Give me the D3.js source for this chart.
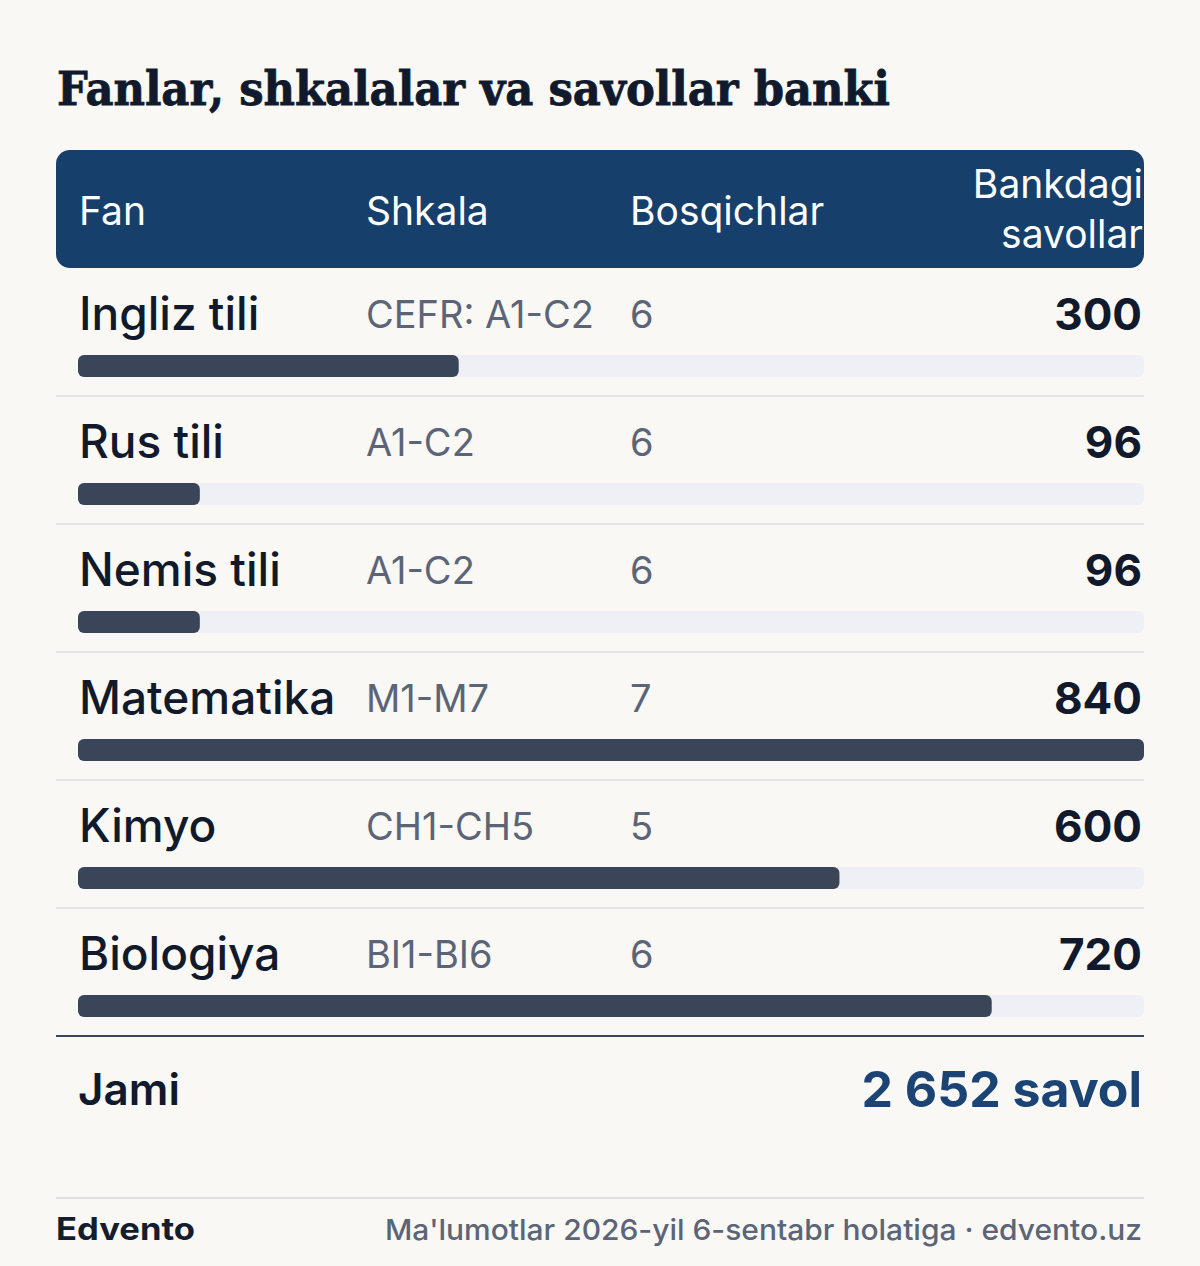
<!DOCTYPE html><html><head><meta charset="utf-8">
<script src="https://cdn.jsdelivr.net/npm/d3@7"></script>
<style>body{margin:0;background:#f9f8f4}</style></head><body><svg id="c" width="1200" height="1266"></svg>
<script>
const subjects=["Ingliz tili","Rus tili","Nemis tili","Matematika","Kimyo","Biologiya"];
const scales=["CEFR: A1-C2","A1-C2","A1-C2","M1-M7","CH1-CH5","BI1-BI6"];
const stages=[6,6,6,7,5,6];
const questions=[300,96,96,840,600,720];
const headers=["Fan","Shkala","Bosqichlar"];
const total=d3.sum(questions);
const F="Inter, 'Noto Sans', sans-serif";
const svg=d3.select("#c");
svg.append("rect").attr("width",1200).attr("height",1266).attr("fill","#f9f8f4");
svg.append("text").attr("x",57).attr("y",105).attr("font-family","'DejaVu Serif', serif").attr("font-weight",900)
 .attr("font-size",46).attr("fill","#111a2c").attr("stroke","#111a2c").attr("stroke-width",0.8).attr("textLength",833).attr("lengthAdjust","spacingAndGlyphs").text("Fanlar, shkalalar va savollar banki");
svg.append("rect").attr("x",56).attr("y",150).attr("width",1088).attr("height",118).attr("rx",14).attr("fill","#173f6b");
const hx=[79,366,630];
headers.forEach((h,i)=>svg.append("text").attr("x",hx[i]).attr("y",225).attr("font-family",F).attr("font-size",39).attr("fill","#fff").text(h));
[["Bankdagi",198],["savollar",248]].forEach(([t,y])=>svg.append("text").attr("x",1143).attr("y",y).attr("text-anchor","end").attr("font-family",F).attr("font-size",39).attr("fill","#fff").text(t));
const y=d3.scaleBand().domain(subjects).range([268,1036]);
const x=d3.scaleLinear().domain([0,d3.max(questions)]).range([78,1144]);
const g=svg.selectAll("g.row").data(subjects).join("g").attr("transform",d=>`translate(0,${y(d)})`);
g.append("text").attr("x",79).attr("y",62).attr("font-family",F).attr("font-weight",500).attr("font-size",46).attr("fill","#111a2c").text(d=>d);
g.append("text").attr("x",366).attr("y",60).attr("font-family",F).attr("font-size",38).attr("fill","#5b6577").text((d,i)=>scales[i]);
g.append("text").attr("x",630).attr("y",60).attr("font-family",F).attr("font-size",38).attr("fill","#5b6577").text((d,i)=>stages[i]);
g.append("text").attr("x",1142).attr("y",62).attr("text-anchor","end").attr("font-family",F).attr("font-weight",700).attr("font-size",44).attr("fill","#111a2c").text((d,i)=>questions[i]);
g.append("rect").attr("x",78).attr("y",87).attr("width",1066).attr("height",22).attr("rx",6).attr("fill","#eef0f5");
g.append("rect").attr("x",78).attr("y",87).attr("width",(d,i)=>x(questions[i])-78).attr("height",22).attr("rx",6).attr("fill","#3a4559");
g.filter((d,i)=>i<subjects.length-1).append("line").attr("x1",56).attr("x2",1144).attr("y1",128).attr("y2",128).attr("stroke","#e4e4e2").attr("stroke-width",2);
svg.append("line").attr("x1",56).attr("x2",1144).attr("y1",1036).attr("y2",1036).attr("stroke","#3a4559").attr("stroke-width",2);
svg.append("text").attr("x",78).attr("y",1105).attr("font-family",F).attr("font-weight",600).attr("font-size",44).attr("fill","#111a2c").text("Jami");
svg.append("text").attr("x",1142).attr("y",1107).attr("text-anchor","end").attr("font-family",F).attr("font-weight",700).attr("font-size",50).attr("fill","#1b4474")
 .text(d3.format(",")(total).replace(/,/g," ")+" savol");
svg.append("line").attr("x1",56).attr("x2",1144).attr("y1",1198).attr("y2",1198).attr("stroke","#e0e0de").attr("stroke-width",2);
svg.append("text").attr("x",56).attr("y",1240).attr("font-family",F).attr("font-weight",700).attr("font-size",31).attr("fill","#141d2e").attr("textLength",139).attr("lengthAdjust","spacingAndGlyphs").text("Edvento");
svg.append("text").attr("x",1142).attr("y",1240).attr("text-anchor","end").attr("font-family",F).attr("font-weight",500).attr("font-size",29).attr("fill","#5b6577").attr("textLength",757).attr("lengthAdjust","spacingAndGlyphs").text("Ma'lumotlar 2026-yil 6-sentabr holatiga  ·  edvento.uz");
</script></body></html>
